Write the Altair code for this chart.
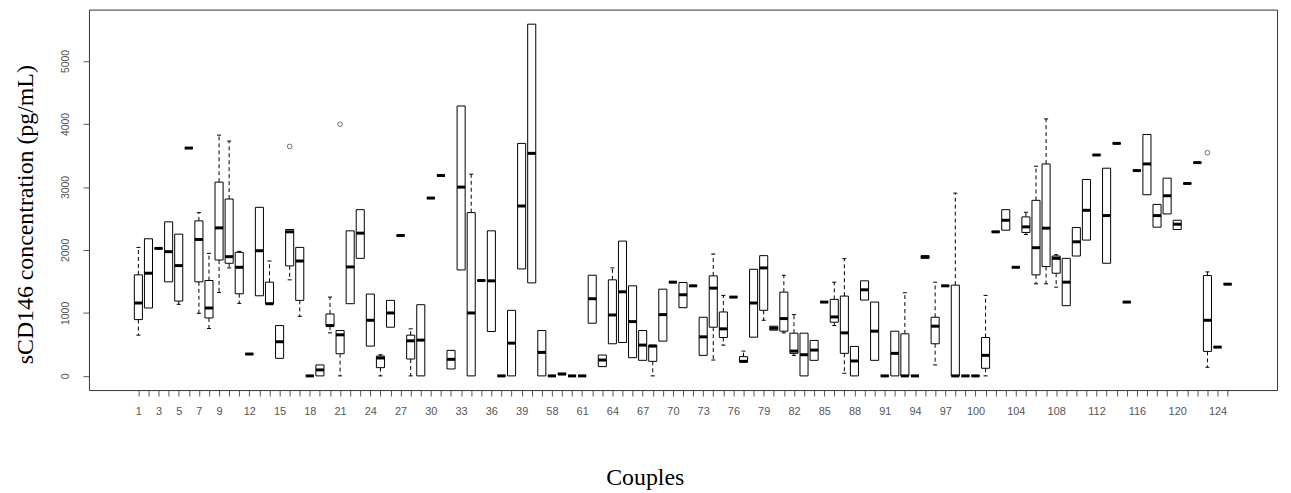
import altair as alt
import pandas as pd

# ---- categories (couples), in plotted order ----
couples = [str(i) for i in range(1, 42)] + [str(i) for i in range(58, 126)]
shown_tick_labels = ["1", "3", "5", "7", "9", "12", "15", "18", "21", "24", "27", "30", "33",
                     "36", "39", "58", "61", "64", "67", "70", "73", "76", "79", "82", "85",
                     "88", "91", "94", "97", "100", "104", "108", "112", "116", "120", "124"]

# ---- box statistics (pg/mL) ----
q1 = [894, 1078, 2024, 1493, 1188, 3617, 1493, 920, 1840, 1788, 1304, 347, 1272, 1146, 279,
      1746, 1199, 0, 0, 789, 352, 1146, 1866, 473, 131, 773, 2229, 268, 0, 2823, 3181, 110,
      1682, 0, 1514, 705, 0, 0, 1698, 1477, 0,
      0, 20, 0, 0, 836, 147, 510, 531, 289, 247, 231, 552, 1488, 1083, 1430, 326, 773, 610,
      1251, 221, 615, 1041, 726, 710, 358, 0, 247, 1172, 852, 358, 0, 1204, 247, 0, 0, 0, 0,
      1866, 510, 1430, 0, 0, 0, 121, 2287, 2313, 1724, 2277, 1604, 1735, 1630, 1115, 1903,
      2156, 3507, 1788, 3691, 1172, 3260, 2876, 2361, 2571, 2324, 3055, 3386, 389, 457, 1456]
med = [1157, 1630, 2024, 1972, 1751, 3617, 2166, 1078, 2350, 1893, 1724, 347, 1987, 1146, 542,
       2287, 1824, 0, 95, 799, 652, 1730, 2266, 883, 284, 999, 2229, 557, 568, 2823, 3181, 263,
       2997, 999, 1514, 1509, 0, 520, 2697, 3533, 373,
       0, 30, 0, 0, 1225, 252, 967, 1335, 862, 489, 473, 973, 1488, 1288, 1430, 620, 1393, 747,
       1251, 231, 1157, 1714, 757, 910, 394, 336, 410, 1172, 936, 683, 237, 1367, 710, 0, 358,
       0, 0, 1888, 789, 1430, 0, 0, 0, 326, 2287, 2471, 1724, 2366, 2035, 2345, 1866, 1488,
       2129, 2629, 3507, 2545, 3691, 1172, 3260, 3365, 2545, 2860, 2408, 3055, 3386, 883, 457,
       1456]
q3 = [1604, 2177, 2024, 2445, 2250, 3617, 2461, 1514, 3076, 2808, 1961, 347, 2676, 1488, 799,
      2324, 2040, 0, 174, 983, 720, 2303, 2639, 1299, 315, 1199, 2229, 647, 1130, 2823, 3181,
      405, 4285, 2592, 1514, 2303, 0, 1041, 3691, 5584, 720,
      0, 40, 0, 0, 1598, 331, 1525, 2140, 1430, 720, 489, 1377, 1488, 1483, 1430, 931, 1588,
      1015, 1251, 305, 1693, 1909, 789, 1330, 678, 678, 563, 1172, 1215, 1267, 468, 1509, 1172,
      0, 710, 668, 0, 1909, 931, 1430, 1441, 0, 0, 610, 2287, 2639, 1724, 2524, 2787, 3365,
      1903, 1866, 2355, 3118, 3507, 3297, 3691, 1172, 3260, 3833, 2723, 3139, 2471, 3055, 3386,
      1593, 457, 1456]

# ---- whiskers ----
lower_whisker_couple = ["1", "5", "7", "8", "9", "10", "11", "16", "17", "20", "21", "25", "28",
                        "68", "74", "75", "79", "81", "82", "86", "87", "96", "101", "105",
                        "106", "107", "108", "123"]
lower_whisker_value = [647, 1136, 994, 752, 1325, 1714, 1151, 1525, 946, 683, 0, 0, 0,
                       0, 252, 489, 883, 683, 326, 799, 42, 174, 0, 2245, 1462, 1462, 1409, 137]
upper_whisker_couple = ["1", "7", "8", "9", "10", "11", "14", "20", "25", "28", "34",
                        "64", "74", "75", "77", "81", "82", "86", "87", "93", "96", "98", "101",
                        "105", "106", "107", "108", "123"]
upper_whisker_value = [2040, 2592, 1945, 3822, 3728, 1977, 1824, 1251, 336, 747, 3202,
                       1714, 1935, 1278, 394, 1598, 973, 1488, 1861, 1320, 1488, 2902, 1278,
                       2597, 3328, 4080, 1924, 1651]

# ---- outliers ----
outlier_couple = ["16", "21", "123"]
outlier_value = [3643, 3996, 3544]

# ---- tables ----
pos = {c: i + 1 for i, c in enumerate(couples)}
boxes = pd.DataFrame({"couple": couples, "idx": [pos[c] for c in couples],
                      "q1": q1, "med": med, "q3": q3})
lowdf = pd.DataFrame({"couple": lower_whisker_couple, "end": lower_whisker_value})
lowdf["idx"] = [pos[c] for c in lowdf.couple]
lowdf = lowdf.merge(boxes[["couple", "q1"]], on="couple").rename(columns={"q1": "edge"})
updf = pd.DataFrame({"couple": upper_whisker_couple, "end": upper_whisker_value})
updf["idx"] = [pos[c] for c in updf.couple]
updf = updf.merge(boxes[["couple", "q3"]], on="couple").rename(columns={"q3": "edge"})
whisk = pd.concat([lowdf, updf], ignore_index=True)
outdf = pd.DataFrame({"couple": outlier_couple, "value": outlier_value})
outdf["idx"] = [pos[c] for c in outdf.couple]

# ---- axes ----
label_arr = [""] + [c if c in shown_tick_labels else "" for c in couples]
label_expr = "[" + ",".join("'%s'" % s for s in label_arr) + "][datum.value]"

xs = alt.Scale(domain=[-3.9, 113.9], nice=False, zero=False)
ys = alt.Scale(domain=[-225, 5815], nice=False, zero=False)

xaxis = alt.Axis(values=list(range(1, len(couples) + 1)), labelExpr=label_expr,
                 title="Couples", domain=False, grid=False, tickSize=6, tickColor="#555555",
                 labelColor="#555555", labelFont="Liberation Sans", labelFontSize=11,
                 labelPadding=10, labelBaseline="top", labelOverlap=False, labelBound=False,
                 labelFlush=False, titleFont="Liberation Serif", titleFontSize=24,
                 titleFontWeight="normal", titleColor="black", titleX=559.5, titleY=95,
                 titleAlign="center", titleBaseline="alphabetic")
yaxis = alt.Axis(values=[0, 1000, 2000, 3000, 4000, 5000], format="d", labelAngle=270,
                 labelAlign="center", labelBaseline="bottom", tickSize=6, tickColor="#555555",
                 labelPadding=13, labelColor="#555555", labelFont="Liberation Sans",
                 labelFontSize=10.5, domain=False, grid=False,
                 title="sCD146 concentration (pg/mL)", titleAngle=270, titleX=-63.5,
                 titleY=206, titleAlign="center", titleBaseline="middle",
                 titleFont="Liberation Serif", titleFontSize=24, titleFontWeight="normal",
                 titleColor="black")


def X(f):
    return alt.X(f, type="quantitative", scale=xs, axis=xaxis)


def Y(f):
    return alt.Y(f, type="quantitative", scale=ys, axis=yaxis)


whisk_base = alt.Chart(whisk).transform_calculate(cl="datum.idx - 0.2", cr="datum.idx + 0.2")
whiskers = whisk_base.mark_rule(color="black", strokeWidth=1, strokeDash=[4, 3]).encode(
    x=X("idx"), y=Y("edge"), y2="end")
caps = whisk_base.mark_rule(color="black", strokeWidth=1).encode(
    x=X("cl"), x2="cr", y=Y("end"))

box_base = alt.Chart(boxes).transform_calculate(xl="datum.idx - 0.4", xr="datum.idx + 0.4")
rects = box_base.mark_rect(fill="white", stroke="black", strokeWidth=1).encode(
    x=X("xl"), x2="xr", y=Y("q1"), y2="q3")
medians = box_base.mark_rule(color="black", strokeWidth=3).encode(
    x=X("xl"), x2="xr", y=Y("med"))

outs = alt.Chart(outdf).mark_point(shape="circle", filled=False, color="black",
                                   strokeWidth=0.8, size=22).encode(x=X("idx"), y=Y("value"))

chart = alt.layer(whiskers, caps, rects, medians, outs).properties(
    width=1196, height=383,
    autosize=alt.AutoSizeParams(type="none"),
    padding={"left": 81.5, "top": 0, "right": 6, "bottom": 102},
    background="white",
).configure_view(stroke="#333333", strokeWidth=1)

chart.save("out.html", embed_options={"renderer": "svg", "actions": False})
